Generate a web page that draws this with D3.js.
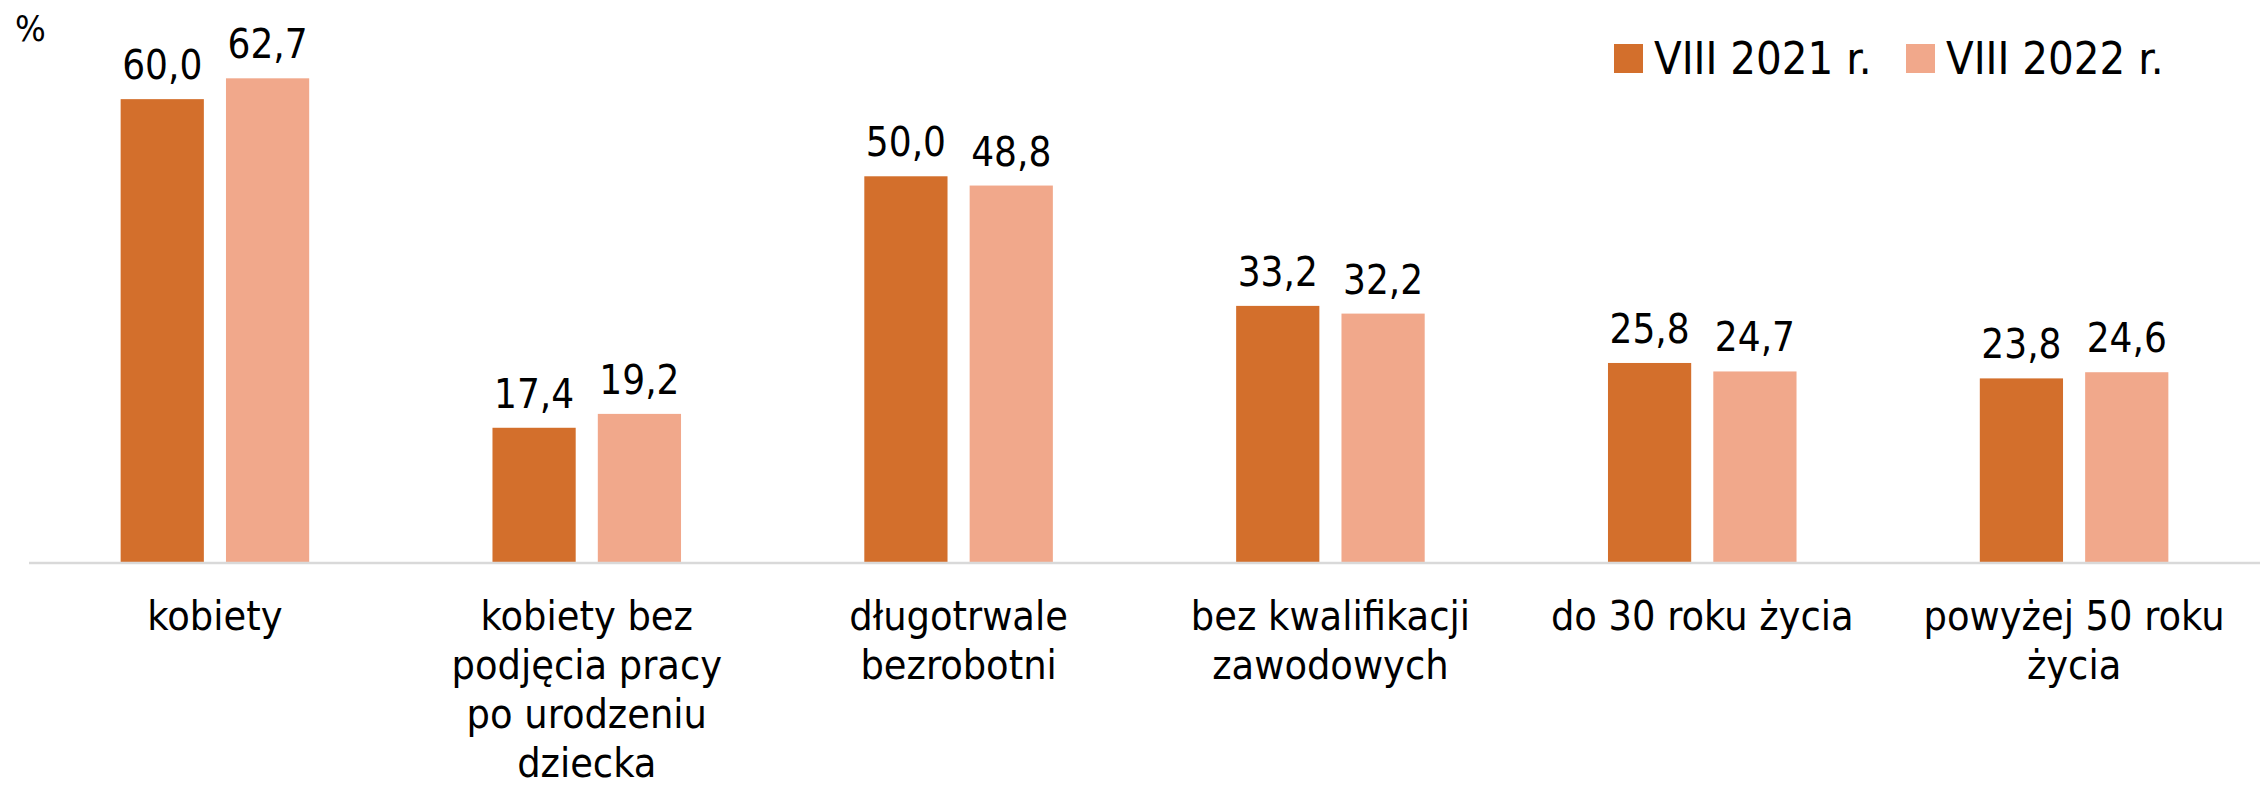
<!DOCTYPE html>
<html>
<head>
<meta charset="utf-8">
<script src="https://cdn.jsdelivr.net/npm/d3@7"></script>
<style>
  body { margin: 0; background: #fff; }
  text { font-family: "DejaVu Sans Condensed", sans-serif; fill: #000; }
</style>
</head>
<body>
<div id="chart"></div>
<script>
// chart data
var categories = [
    "kobiety",
    "kobiety bez\npodjęcia pracy\npo urodzeniu\ndziecka",
    "długotrwale\nbezrobotni",
    "bez kwalifikacji\nzawodowych",
    "do 30 roku życia",
    "powyżej 50 roku\nżycia"
];
var seriesNames = ["VIII 2021 r.", "VIII 2022 r."];
var values2021 = [60.0, 17.4, 50.0, 33.2, 25.8, 23.8];
var values2022 = [62.7, 19.2, 48.8, 32.2, 24.7, 24.6];
var colors = ["#D36F2C", "#F1A88B"];

var svgWidth = 2264;
var svgHeight = 789;

var svg = d3.select("#chart")
    .append("svg")
    .attr("width", svgWidth)
    .attr("height", svgHeight);

// scales
var x0 = d3.scaleBand()
    .domain(categories)
    .range([29, 2260]);

var x1 = d3.scaleBand()
    .domain(seriesNames)
    .range([0, x0.bandwidth()])
    .paddingInner(0.21)
    .paddingOuter(0.87);

var y = d3.scaleLinear()
    .domain([0, 70])
    .range([562, 22]);

var rows = categories.map(function(c, i) {
    return { cat: c, vals: [values2021[i], values2022[i]] };
});

// bars
var groups = svg.selectAll(".group")
    .data(rows)
    .enter()
    .append("g")
    .attr("class", "group")
    .attr("transform", d => `translate(${x0(d.cat)}, 0)`);

groups.selectAll("rect")
    .data(d => d.vals.map((v, j) => ({ s: seriesNames[j], v: v, j: j })))
    .enter()
    .append("rect")
    .attr("x", d => x1(d.s))
    .attr("y", d => y(d.v))
    .attr("width", x1.bandwidth())
    .attr("height", d => y(0) - y(d.v))
    .attr("fill", d => colors[d.j]);

// value labels
groups.selectAll(".val")
    .data(d => d.vals.map((v, j) => ({ s: seriesNames[j], v: v })))
    .enter()
    .append("text")
    .attr("class", "val")
    .attr("x", d => x1(d.s) + x1.bandwidth() / 2)
    .attr("y", d => y(d.v) - 20)
    .attr("text-anchor", "middle")
    .style("font-size", "40px")
    .text(d => d.v.toFixed(1).replace(".", ","));

// axis line
svg.append("line")
    .attr("x1", 29)
    .attr("x2", 2260)
    .attr("y1", y(0) + 1)
    .attr("y2", y(0) + 1)
    .attr("stroke", "#D9D9D9")
    .attr("stroke-width", 2.5);

// category labels
var xAxis = svg.append("g")
    .attr("transform", `translate(0, ${y(0)})`)
    .call(d3.axisBottom(x0).tickSize(0).tickFormat(""));
xAxis.select(".domain").remove();

xAxis.selectAll(".tick")
    .append("text")
    .attr("text-anchor", "middle")
    .style("font-size", "41px")
    .selectAll("tspan")
    .data(d => d.split("\n"))
    .enter()
    .append("tspan")
    .attr("x", 0)
    .attr("y", (d, i) => 68 + i * 49)
    .text(d => d);

// unit label
svg.append("text")
    .attr("x", 15)
    .attr("y", 41)
    .style("font-size", "36px")
    .text("%");

// legend
var legendX = [1614, 1906];
var legend = svg.selectAll(".legend")
    .data(seriesNames)
    .enter()
    .append("g")
    .attr("class", "legend")
    .attr("transform", (d, i) => `translate(${legendX[i]}, 44)`);

legend.append("rect")
    .attr("width", 29)
    .attr("height", 29)
    .attr("fill", (d, i) => colors[i]);

legend.append("text")
    .attr("x", 40)
    .attr("y", 30)
    .style("font-size", "45px")
    .text(d => d);
</script>
</body>
</html>
